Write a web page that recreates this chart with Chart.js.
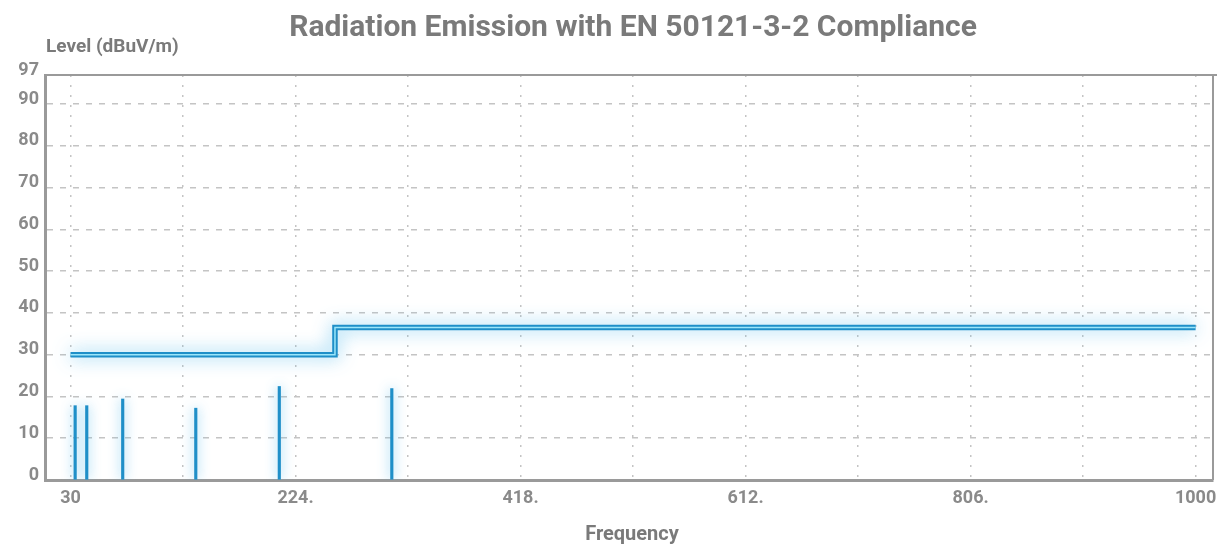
<!DOCTYPE html>
<html>
<head>
<meta charset="utf-8">
<script src="https://cdn.jsdelivr.net/npm/chart.js@4/dist/chart.umd.min.js"></script>
<style>
  html, body { margin: 0; padding: 0; background: #fff; }
  #wrap { width: 1217px; height: 550px; }
</style>
</head>
<body>
<div id="wrap"><canvas id="chart" width="1217" height="550"></canvas></div>
<script>
// limit line (step)
const limitFreq = [30, 258, 258, 1000];
const limitLevel = [30, 30, 36.5, 36.5];

// measured emission peaks
const peakFreq = [34, 44, 75, 138, 210, 307];
const peakLevel = [17.8, 17.8, 19.4, 17.2, 22.4, 21.9];

const xTicks = [30, 127, 224, 321, 418, 515, 612, 709, 806, 903, 1000];
const xLabels = ['30', '', '224.', '', '418.', '', '612.', '', '806.', '', '1000'];
const yTicks = [0, 10, 20, 30, 40, 50, 60, 70, 80, 90, 97];

const grey = '#8a8a8a';
const tickFont = { family: 'Roboto', size: 18, weight: 'bold' };

const glow = {
  id: 'glow',
  beforeDatasetDraw(chart, args) {
    const ctx = chart.ctx;
    const label = chart.data.datasets[args.index].label;
    ctx.save();
    if (label === 'Limit inner') return;
    ctx.shadowColor = 'rgba(80, 185, 235, 0.8)';
    ctx.shadowBlur = label === 'Limit' ? 18 : 12;
  },
  afterDatasetDraw(chart) {
    chart.ctx.restore();
  }
};

const frame = {
  id: 'frame',
  afterDraw(chart) {
    const ctx = chart.ctx;
    const a = chart.chartArea;
    ctx.save();
    ctx.strokeStyle = '#9a9a9a';
    ctx.lineWidth = 2;
    ctx.beginPath();
    ctx.moveTo(a.left, a.top);
    ctx.lineTo(1217, a.top);
    ctx.moveTo(a.right, a.top);
    ctx.lineTo(a.right, a.bottom);
    ctx.stroke();

    ctx.fillStyle = '#7a7a7a';
    ctx.textAlign = 'center';
    ctx.textBaseline = 'middle';
    ctx.font = 'bold 30px Roboto';
    ctx.fillText('Radiation Emission with EN 50121-3-2 Compliance', 633, 28);
    ctx.font = 'bold 19px Roboto';
    ctx.textAlign = 'left';
    ctx.fillText('Level (dBuV/m)', 46, 47);
    ctx.textAlign = 'center';
    ctx.font = 'bold 20px Roboto';
    ctx.fillText('Frequency', 632, 535);
    ctx.restore();
  }
};

new Chart(document.getElementById('chart'), {
  data: {
    datasets: [
      {
        type: 'line',
        label: 'Limit inner',
        data: limitFreq.map((f, i) => ({ x: f, y: limitLevel[i] })),
        borderColor: '#9be6fa',
        borderWidth: 1.5,
        pointRadius: 0,
        tension: 0,
        fill: false
      },
      {
        type: 'line',
        label: 'Limit',
        data: limitFreq.map((f, i) => ({ x: f, y: limitLevel[i] })),
        borderColor: '#1f8fc8',
        borderWidth: 5.5,
        pointRadius: 0,
        tension: 0,
        fill: false
      },
      {
        type: 'bar',
        label: 'Peaks',
        data: peakFreq.map((f, i) => ({ x: f, y: peakLevel[i] })),
        backgroundColor: '#1f8fc8',
        barThickness: 2.5
      }
    ]
  },
  options: {
    responsive: false,
    animation: false,
    layout: { padding: { top: 75, right: 4, left: 0, bottom: 0 } },
    plugins: {
      legend: { display: false },
      tooltip: { enabled: false }
    },
    scales: {
      x: {
        type: 'linear',
        min: 8,
        max: 1015,
        offset: false,
        afterBuildTicks(scale) {
          scale.ticks = xTicks.map(v => ({ value: v }));
        },
        afterFit(scale) {
          scale.height = 70;
          scale.paddingLeft = 0;
          scale.paddingRight = 0;
        },
        ticks: {
          autoSkip: false,
          maxRotation: 0,
          color: grey,
          font: tickFont,
          padding: 8,
          callback: (v, i) => xLabels[i]
        },
        grid: {
          offset: false,
          color: '#c4c4c4',
          lineWidth: 1.5,
          drawTicks: false
        },
        border: { display: true, color: '#9a9a9a', width: 3, dash: [2, 8] }
      },
      y: {
        type: 'linear',
        min: 0,
        max: 97,
        afterBuildTicks(scale) {
          scale.ticks = yTicks.map(v => ({ value: v }));
        },
        afterFit(scale) { scale.width = 45; },
        ticks: {
          autoSkip: false,
          color: grey,
          font: tickFont,
          padding: 6,
          labelOffset: -5
        },
        grid: {
          color: ctx => (ctx.tick && (ctx.tick.value === 0 || ctx.tick.value === 97)) ? 'rgba(0,0,0,0)' : '#c4c4c4',
          lineWidth: 1.5,
          drawTicks: false
        },
        border: { display: true, color: '#9a9a9a', width: 3, dash: [6, 7] }
      }
    }
  },
  plugins: [glow, frame]
});
</script>
</body>
</html>
